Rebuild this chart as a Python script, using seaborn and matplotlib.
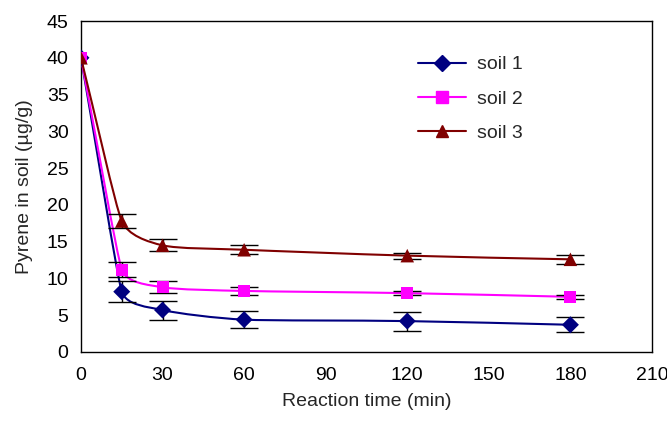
import numpy as np
import pandas as pd
import matplotlib
matplotlib.use("Agg")
import matplotlib.pyplot as plt
from matplotlib.path import Path
from matplotlib.patches import PathPatch
from matplotlib.lines import Line2D
import seaborn as sns

# Reaction time (min) and residual pyrene (ug/g) with standard deviations
time_min = [0, 15, 30, 60, 120, 180]
soil1 = [40.0, 8.2, 5.7, 4.4, 4.2, 3.7]
soil1_err = [0.0, 1.4, 1.3, 1.2, 1.3, 1.0]
soil2 = [40.0, 11.2, 8.8, 8.3, 8.0, 7.5]
soil2_err = [0.0, 1.0, 0.8, 0.6, 0.3, 0.3]
soil3 = [40.0, 17.8, 14.5, 13.9, 13.1, 12.6]
soil3_err = [0.0, 1.0, 0.8, 0.6, 0.4, 0.6]
series_names = ["soil 1", "soil 2", "soil 3"]
x_ticks = [0, 30, 60, 90, 120, 150, 180, 210]
y_ticks = [0, 5, 10, 15, 20, 25, 30, 35, 40, 45]

colors = ["#000080", "#FF00FF", "#800000"]
markers = ["D", "s", "^"]
msizes = [75, 75, 95]
FS = 14

sns.set_style("white")
plt.rcParams["font.family"] = ["Liberation Sans", "DejaVu Sans"]

df = pd.concat([
    pd.DataFrame({"time": time_min, "pyrene": v, "err": e, "soil": n})
    for v, e, n in zip([soil1, soil2, soil3], [soil1_err, soil2_err, soil3_err], series_names)
], ignore_index=True)

fig = plt.figure(figsize=(6.67, 4.22), dpi=100)
ax = fig.add_axes([0.1214, 0.1659, 0.8561, 0.7843])
ax.set_xlim(0, 210)
ax.set_ylim(0, 45)


def smooth_path(ax, x, y, s=0.33):
    """Smoothed Bezier line through the points, built in screen space.

    Control handles at each point follow the neighbour chord and are
    limited by the shorter of the two adjoining segments.
    """
    pts = ax.transData.transform(np.column_stack([x, y]).astype(float))
    n = len(pts)
    seglen = [np.hypot(*(pts[i + 1] - pts[i])) for i in range(n - 1)]
    dirs, hand = [], []
    for i in range(n):
        a = pts[i - 1] if i > 0 else pts[i]
        b = pts[i + 1] if i < n - 1 else pts[i]
        d = b - a
        dirs.append(d / np.hypot(*d))
        near = [seglen[j] for j in (i - 1, i) if 0 <= j < n - 1]
        hand.append(min(near) * s)
    verts = [pts[0]]
    codes = [Path.MOVETO]
    for i in range(n - 1):
        verts += [pts[i] + dirs[i] * min(hand[i], seglen[i] * s),
                  pts[i + 1] - dirs[i + 1] * min(hand[i + 1], seglen[i] * s),
                  pts[i + 1]]
        codes += [Path.CURVE4] * 3
    verts = ax.transData.inverted().transform(np.array(verts))
    return Path(verts, codes)


for k, name in enumerate(series_names):
    d = df[df["soil"] == name]
    ax.add_patch(PathPatch(smooth_path(ax, d["time"], d["pyrene"]), facecolor="none",
                           edgecolor=colors[k], lw=1.5, zorder=2 + k))
    mask = d["err"] > 0
    ax.errorbar(d["time"][mask], d["pyrene"][mask], yerr=d["err"][mask], fmt="none",
                ecolor="black", elinewidth=1.0, capsize=10, capthick=1.0, zorder=5 + k)

sns.scatterplot(data=df, x="time", y="pyrene", hue="soil", style="soil",
                palette=colors, markers=markers, size="soil",
                sizes=dict(zip(series_names, msizes)), edgecolor="none",
                legend=False, ax=ax, zorder=10)

ax.set_xlim(0, 210)
ax.set_ylim(0, 45)
ax.set_xticks(x_ticks)
ax.set_yticks(y_ticks)
ax.tick_params(axis="x", direction="in", length=5, width=1, colors="black", labelsize=FS, pad=11)
ax.tick_params(axis="y", direction="in", length=5, width=1, colors="black", labelsize=FS, pad=9)
for s in ax.spines.values():
    s.set_visible(True)
    s.set_color("black")
    s.set_linewidth(1.0)
ax.set_xlabel("Reaction time (min)", fontsize=FS, labelpad=6)
ax.set_ylabel("Pyrene in soil (\u00b5g/g)", fontsize=FS, labelpad=10)

handles = [Line2D([0], [0], color=c, lw=1.5, marker=m, markersize=8.5, markeredgecolor=c)
           for c, m in zip(colors, markers)]
ax.legend(handles, series_names, loc="upper left", bbox_to_anchor=(0.59, 0.895),
          frameon=False, fontsize=FS, handlelength=2.5, labelspacing=0.85,
          handletextpad=0.55, borderpad=0, borderaxespad=0)

fig.savefig("out.png", dpi=100, facecolor="white")
